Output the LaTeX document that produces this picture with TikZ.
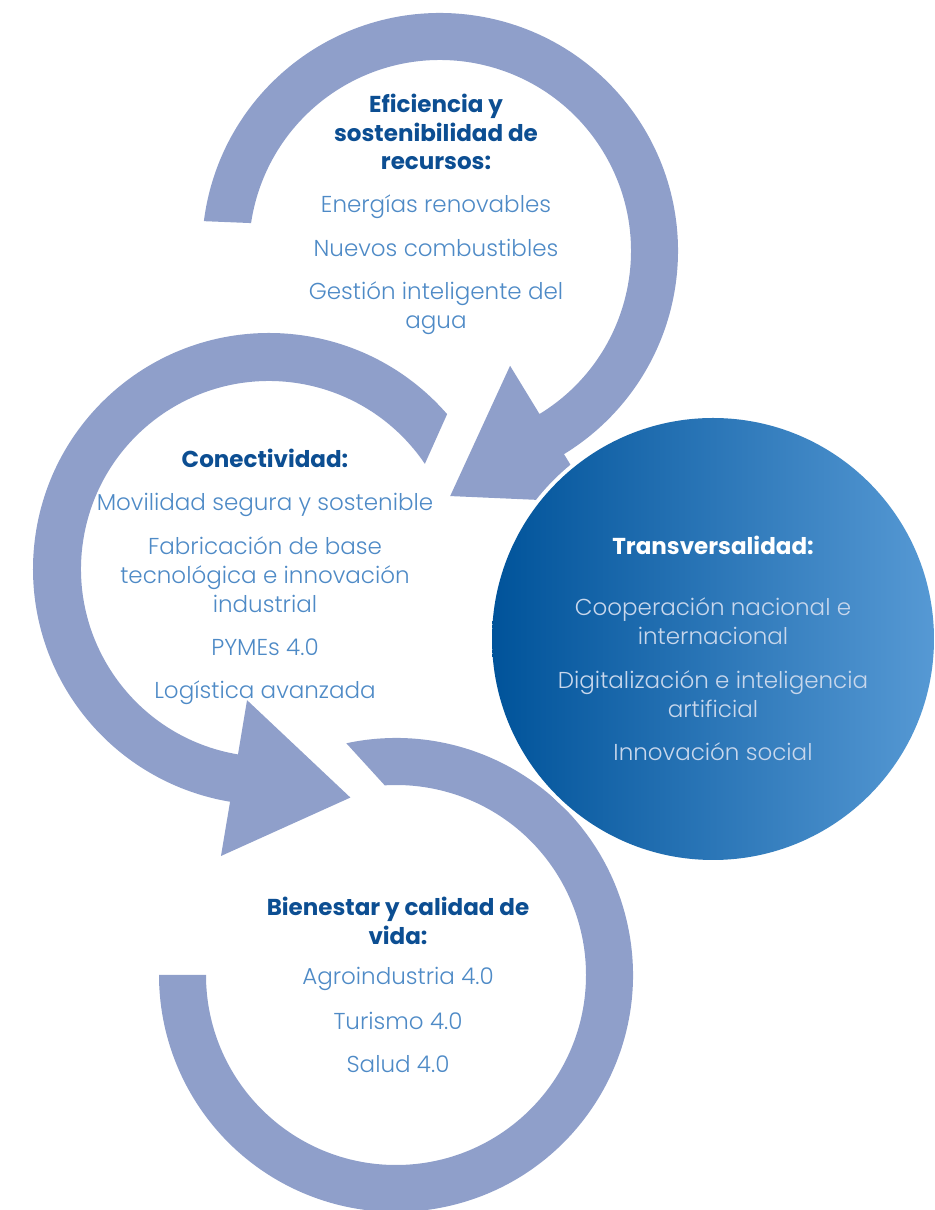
\documentclass[tikz,border=0pt]{standalone}
\usepackage{fontspec}
\setmainfont{Poppins}
\newfontfamily\thinfont{Poppins Light}
\usetikzlibrary{calc}
\definecolor{ring}{RGB}{143,159,202}
\definecolor{darkblue}{RGB}{12,78,146}
\definecolor{lightblue}{RGB}{78,138,198}
\definecolor{paleblue}{RGB}{200,215,236}
\definecolor{circleleft}{RGB}{0,83,154}
\definecolor{circleright}{RGB}{86,153,212}
\newcommand*{\headfont}{\bfseries\fontsize{13.1}{16.4}\selectfont}
\newcommand*{\entryfont}{\thinfont\fontsize{13.1}{16.4}\selectfont}
\tikzstyle{heading}=[font=\headfont, text=darkblue, align=center, inner sep=0pt]
\tikzstyle{entry}=[font=\entryfont, text=lightblue, align=center, inner sep=0pt]

\begin{document}
\begin{tikzpicture}[x=0.02cm, y=0.02cm]
    \useasboundingbox (0,0) rectangle (934,1210);
    \clip (0,0) rectangle (934,1210);
    \coordinate (c1) at (440,959);
    \coordinate (c2) at (269,641);
    \coordinate (c3) at (396,235);
    \coordinate (ct) at (713,571);
        % top ring
        \fill [ring] ($(c1)+(172.8:238)$) arc [start angle=172.8, end angle=-58.6, radius=238]
            -- ($(c1)+(-58.6:294.5)$) -- ($(c1)+(-58.6:214.5)+(-148.6:119)$)
            -- ($(c1)+(-58.6:134.5)$) -- ($(c1)+(-58.6:191)$)
            arc [start angle=-58.6, end angle=171.6, radius=191] -- cycle;
        % left ring
        \fill [ring] ($(c2)+(41:236)$) arc [start angle=41, end angle=260.5, radius=236]
            -- ($(c2)+(260.5:291)$) -- ($(c2)+(260.5:212)+(350.5:118)$)
            -- ($(c2)+(260.5:133)$) -- ($(c2)+(260.5:188)$)
            arc [start angle=260.5, end angle=34, radius=188] -- cycle;
        % bottom ring
        \fill [ring] ($(c3)+(102.1:237)$) arc [start angle=102.1, end angle=-180, radius=237]
            -- ($(c3)+(-180:190)$) arc [start angle=-180, end angle=93.4, radius=190] -- cycle;
        % circle
        \fill [white] (ct) circle [radius=225];
        \shade [left color=circleleft, right color=circleright] (ct) circle [radius=221];

        \node [heading] (eficiencia) at (436,1078) {Eficiencia y\\sostenibilidad de\\recursos:};
        \node [entry] (energias) at (436,1003) {Energías renovables};
        \node [entry] (combustibles) at (436,962) {Nuevos combustibles};
        \node [entry] (agua) at (436,901.5) {Gestión inteligente del\\agua};

        \node [heading] (conectividad) at (265,752) {Conectividad:};
        \node [entry] (movilidad) at (265,705) {Movilidad segura y sostenible};
        \node [entry] (fabricacion) at (265,635) {Fabricación de base\\tecnológica e innovación\\industrial};
        \node [entry] (pymes) at (265,563) {PYMEs 4.0};
        \node [entry] (logistica) at (265,517) {Logística avanzada};

        \node [heading, text=white] (transversalidad) at (713,665) {Transversalidad:};
        \node [entry, text=paleblue] (cooperacion) at (713,589) {Cooperación nacional e\\internacional};
        \node [entry, text=paleblue] (digitalizacion) at (713,516) {Digitalización e inteligencia\\artificial};
        \node [entry, text=paleblue] (social) at (713,458) {Innovación social};

        \node [heading] (bienestar) at (398,289.5) {Bienestar y calidad de\\vida:};
        \node [entry] (agro) at (398,231) {Agroindustria 4.0};
        \node [entry] (turismo) at (398,189) {Turismo 4.0};
        \node [entry] (salud) at (398,146) {Salud 4.0};
\end{tikzpicture}
\end{document}
